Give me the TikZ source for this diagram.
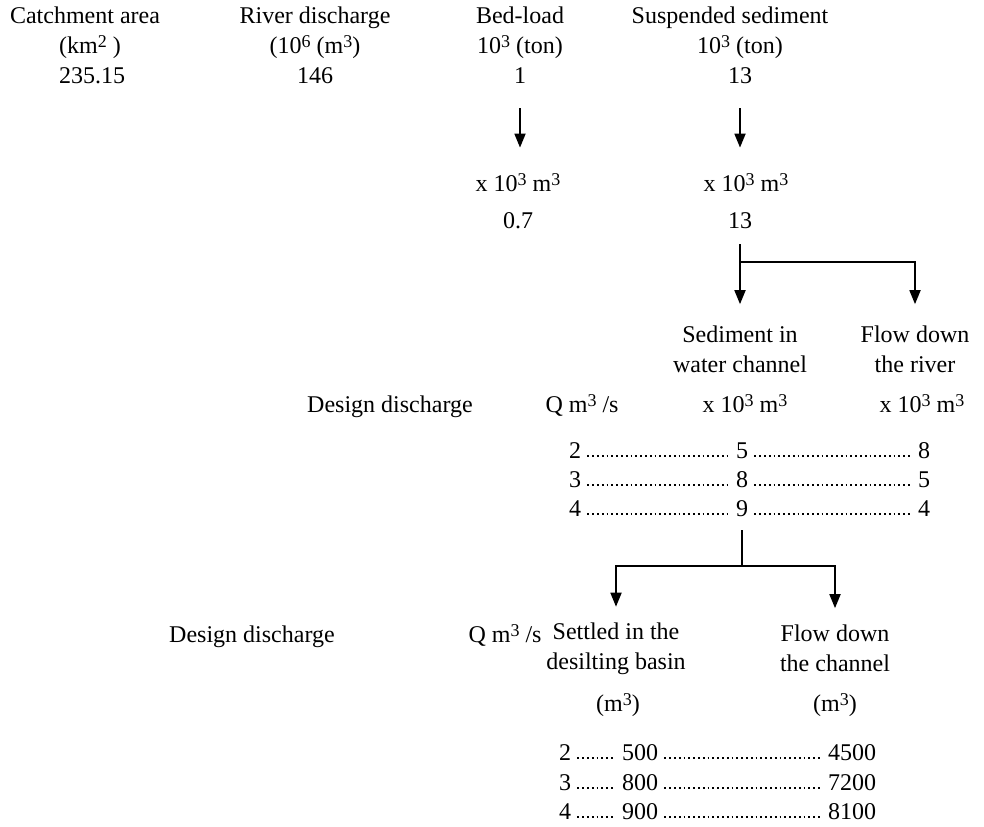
\documentclass[tikz,border=0pt]{standalone}
\usepackage{fontspec}
\setmainfont{Liberation Serif}
\usetikzlibrary{arrows.meta}

\newcommand{\supr}[1]{\raisebox{0.5ex}{\fontsize{9}{9}\selectfont #1}}

\begin{document}
\begin{tikzpicture}[x=0.5pt, y=-0.5pt,
	txt/.style={inner sep=1pt, text height=9pt, text depth=3pt, font=\fontsize{12}{15}\selectfont},
	head/.style={inner sep=1pt, align=center, font=\fontsize{12}{15}\selectfont},
	arrow/.style={-{Triangle[length=7pt,width=5.5pt]}, line width=0.9pt},
	stem/.style={line width=0.9pt},
	leader/.style={line width=1.1pt, dash pattern=on 0.9pt off 1.5pt, shorten <=2pt, shorten >=2pt}]

	\useasboundingbox (0,0) rectangle (984,826);

	% first block
	\node[txt] (catch) at (85,17) {Catchment area};
	\node[txt] (catchu) at (90,47) {(km\supr{2} )};
	\node[txt] (catchv) at (92,77) {235.15};

	\node[txt] (river) at (315,17) {River discharge};
	\node[txt] (riveru) at (315,47) {(10\supr{6} (m\supr{3})};
	\node[txt] (riverv) at (315,77) {146};

	\node[txt] (bed) at (520,17) {Bed-load};
	\node[txt] (bedu) at (520,47) {10\supr{3} (ton)};
	\node[txt] (bedv) at (520,77) {1};
	\node[txt] (bedm) at (518,185) {x 10\supr{3} m\supr{3}};
	\node[txt] (bedmv) at (518,222) {0.7};

	\node[txt] (susp) at (730,17) {Suspended sediment};
	\node[txt] (suspu) at (740,47) {10\supr{3} (ton)};
	\node[txt] (suspv) at (740,77) {13};
	\node[txt] (suspm) at (746,185) {x 10\supr{3} m\supr{3}};
	\node[txt] (suspmv) at (740,222) {13};

	\draw[arrow, shorten <=8.5pt, shorten >=11.5pt] (bedv) -- (bedv |- bedm.north);
	\draw[arrow, shorten <=8.5pt, shorten >=11.5pt] (suspv) -- (suspv |- suspm.north);

	% split into channel and river
	\coordinate (split1) at (740,262);
	\node[head] (sedch) at (740,349) {Sediment in\\water channel};
	\node[head] (flowriv) at (915,349) {Flow down\\the river};
	\draw[stem, shorten <=4pt] (suspmv) -- (split1);
	\draw[arrow, shorten >=9.5pt] (split1) -- (sedch);
	\draw[arrow, shorten >=9.5pt] (split1) -| (flowriv);

	\node[txt] (dd1) at (390,406) {Design discharge};
	\node[txt] (qq1) at (582,406) {Q m\supr{3} /s};
	\node[txt] (wcu) at (745,406) {x 10\supr{3} m\supr{3}};
	\node[txt] (fru) at (922,406) {x 10\supr{3} m\supr{3}};

	\node[txt] (q1) at (575,452) {2};
	\node[txt] (q2) at (575,481) {3};
	\node[txt] (q3) at (575,510) {4};
	\node[txt] (wc1) at (742,452) {5};
	\node[txt] (wc2) at (742,481) {8};
	\node[txt] (wc3) at (742,510) {9};
	\node[txt] (fr1) at (924,452) {8};
	\node[txt] (fr2) at (924,481) {5};
	\node[txt] (fr3) at (924,510) {4};

	\draw[leader] ([yshift=1pt]q1.base east) -- ([yshift=1pt]wc1.base west);
	\draw[leader] ([yshift=1pt]wc1.base east) -- ([yshift=1pt]fr1.base west);
	\draw[leader] ([yshift=1pt]q2.base east) -- ([yshift=1pt]wc2.base west);
	\draw[leader] ([yshift=1pt]wc2.base east) -- ([yshift=1pt]fr2.base west);
	\draw[leader] ([yshift=1pt]q3.base east) -- ([yshift=1pt]wc3.base west);
	\draw[leader] ([yshift=1pt]wc3.base east) -- ([yshift=1pt]fr3.base west);

	% split into basin and channel
	\coordinate (split2) at (742,566);
	\node[head] (basin) at (616,649) {Settled in the\\desilting basin};
	\node[head] (flowch) at (835,648) {Flow down\\the channel};
	\node[txt] (basinu) at (618,705) {(m\supr{3})};
	\node[txt] (flowchu) at (835,705) {(m\supr{3})};
	\draw[stem, shorten <=3pt] (wc3) -- (split2);
	\draw[arrow, shorten >=7pt] (split2) -| (basin);
	\draw[arrow, shorten >=7pt] (split2) -| (flowch);

	\node[txt] (dd2) at (252,636) {Design discharge};
	\node[txt] (qq2) at (505,636) {Q m\supr{3} /s};

	\node[txt] (dq1) at (565,754) {2};
	\node[txt] (dq2) at (565,784) {3};
	\node[txt] (dq3) at (565,813) {4};
	\node[txt] (sb1) at (640,754) {500};
	\node[txt] (sb2) at (640,784) {800};
	\node[txt] (sb3) at (640,813) {900};
	\node[txt] (fc1) at (852,754) {4500};
	\node[txt] (fc2) at (852,784) {7200};
	\node[txt] (fc3) at (852,813) {8100};

	\draw[leader] ([yshift=1pt]dq1.base east) -- ([yshift=1pt]sb1.base west);
	\draw[leader] ([yshift=1pt]sb1.base east) -- ([yshift=1pt]fc1.base west);
	\draw[leader] ([yshift=1pt]dq2.base east) -- ([yshift=1pt]sb2.base west);
	\draw[leader] ([yshift=1pt]sb2.base east) -- ([yshift=1pt]fc2.base west);
	\draw[leader] ([yshift=1pt]dq3.base east) -- ([yshift=1pt]sb3.base west);
	\draw[leader] ([yshift=1pt]sb3.base east) -- ([yshift=1pt]fc3.base west);

\end{tikzpicture}
\end{document}
